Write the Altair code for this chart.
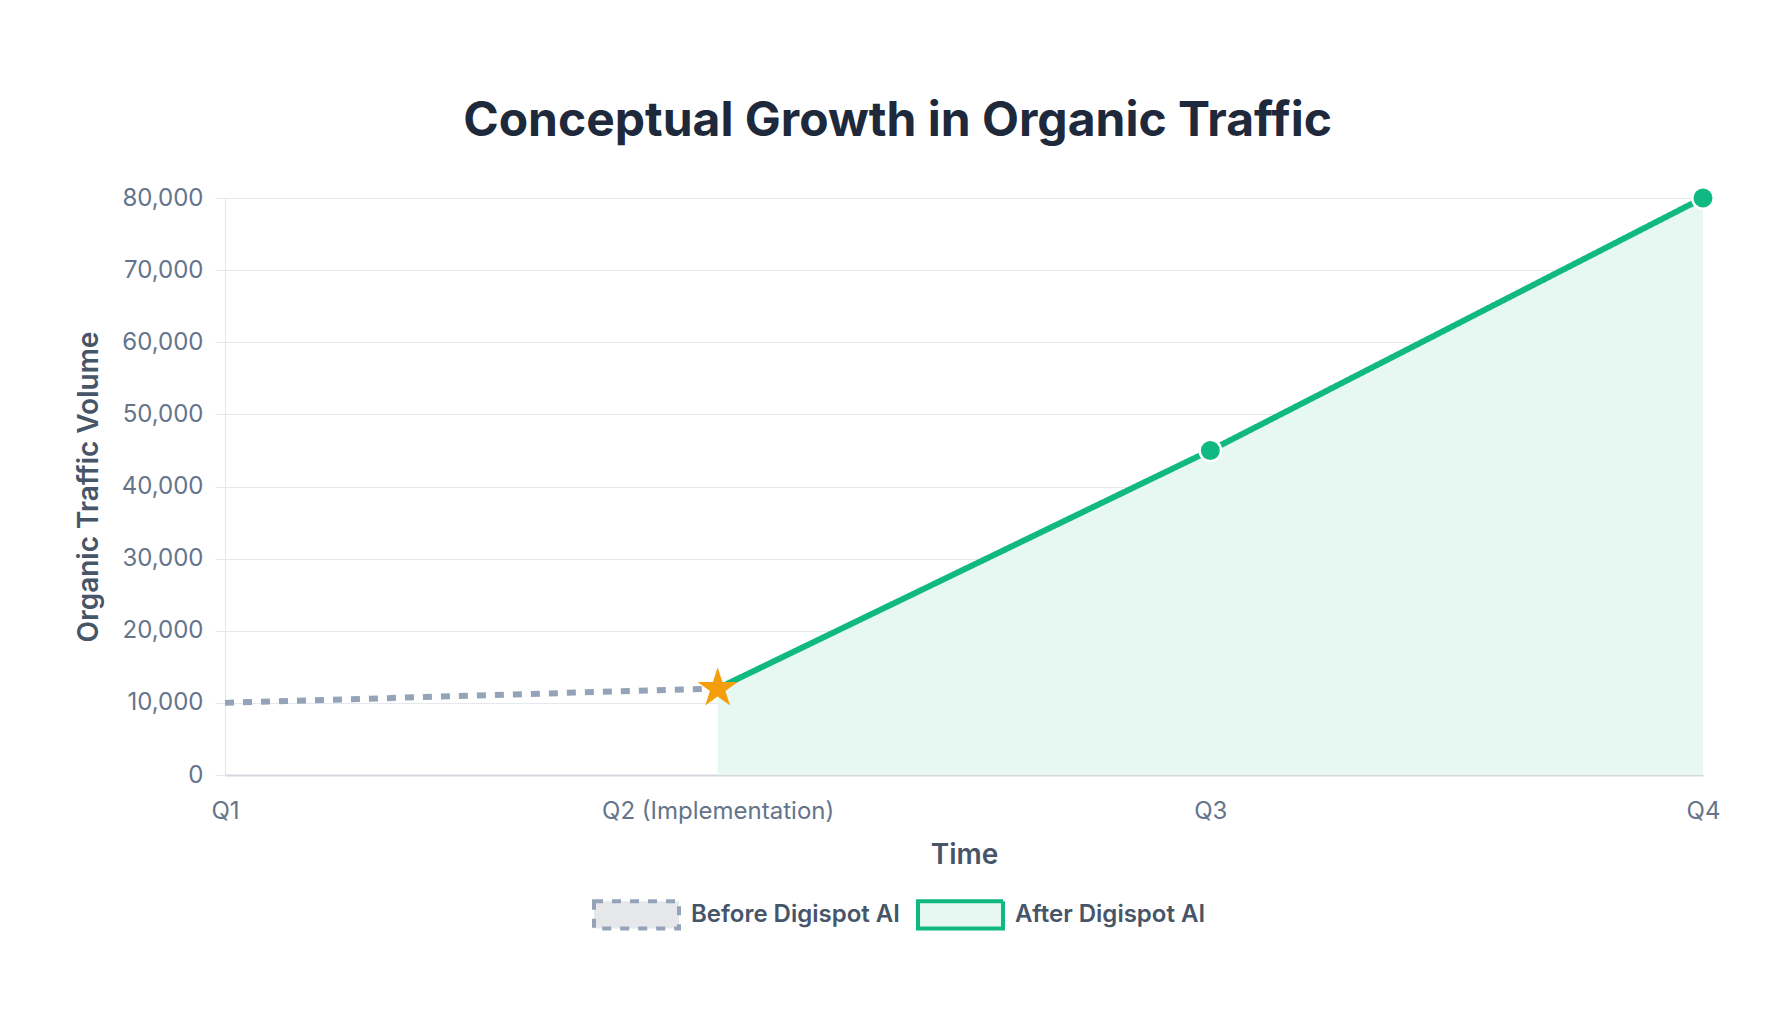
"""Conceptual growth in organic traffic, before and after Digispot AI."""

import pandas as pd
import altair as alt

# Categories and series values
quarters = ["Q1", "Q2 (Implementation)", "Q3", "Q4"]
before_quarters = ["Q1", "Q2 (Implementation)"]
before_values = [10000, 12000]
after_quarters = ["Q2 (Implementation)", "Q3", "Q4"]
after_values = [12000, 45000, 80000]
series_names = ["Before Digispot AI", "After Digispot AI"]
y_ticks = [0, 10000, 20000, 30000, 40000, 50000, 60000, 70000, 80000]

FONT = "Inter"
GREEN = "#10b981"
SLATE = "#94a3b8"
# five-pointed star, in the -1..1 box Vega expects for custom symbols
STAR = ("M0,-1L0.2245,-0.309L0.951,-0.309L0.363,0.118L0.588,0.809L0,0.382"
        "L-0.588,0.809L-0.363,0.118L-0.951,-0.309L-0.2245,-0.309Z")
LEGEND_BOX = "M-1,-0.32H1V0.32H-1Z"

df = pd.concat([
    pd.DataFrame({"series": series_names[0], "quarter": before_quarters,
                  "traffic": before_values}),
    pd.DataFrame({"series": series_names[1], "quarter": after_quarters,
                  "traffic": after_values}),
], ignore_index=True)

x_enc = alt.X(
    "quarter:N", title="Time",
    scale=alt.Scale(type="point", padding=0, domain=quarters),
    axis=alt.Axis(labelAngle=0, ticks=False, grid=False, labelPadding=24,
                  labelLimit=400, domainColor="#d4d8de", domainWidth=2,
                  titlePadding=18),
)
y_enc = alt.Y(
    "traffic:Q", title="Organic Traffic Volume",
    scale=alt.Scale(domain=[0, 80000], nice=False),
    axis=alt.Axis(values=y_ticks, format=",d", tickSize=10, labelPadding=12,
                  tickColor="#e5e9ee", domainColor="#e2e6eb",
                  gridColor="#e5e9ee", titlePadding=18),
)

stroke_scale = alt.Scale(domain=series_names, range=[SLATE, GREEN])
fill_scale = alt.Scale(domain=series_names, range=["#e5e7eb", "#e7f8f2"])
dash_scale = alt.Scale(domain=series_names, range=[[9, 9], [1, 0]])

base = alt.Chart(df)
after = base.transform_filter(alt.datum.series == series_names[1])

area = after.mark_area(opacity=1).encode(
    x=x_enc, y=y_enc,
    fill=alt.Fill("series:N", scale=fill_scale, title=None),
)

line = base.mark_line(strokeWidth=6, strokeCap="butt").encode(
    x=x_enc, y=y_enc,
    stroke=alt.Stroke("series:N", scale=stroke_scale, title=None),
    strokeDash=alt.StrokeDash("series:N", scale=dash_scale, title=None),
    detail="series:N",
)

dots = after.mark_circle(size=460, color=GREEN, stroke="white",
                         strokeWidth=2.5, opacity=1).encode(
    x=x_enc, y=y_enc,
).transform_filter(alt.datum.quarter != quarters[1])

star = after.mark_point(filled=True, size=1800, color="#f59e0b",
                        shape=STAR, opacity=1).encode(
    x=x_enc, y=y_enc,
).transform_filter(alt.datum.quarter == quarters[1])

chart = (
    alt.layer(area, line, dots, star)
    .properties(
        width=1478, height=577,
        autosize=alt.AutoSizeParams(type="none"),
        padding={"left": 217, "top": 190, "right": 81, "bottom": 229},
        background="white",
        title=alt.TitleParams(
            "Conceptual Growth in Organic Traffic", font=FONT, fontSize=48,
            fontWeight=700, color="#1e293b", anchor="middle", frame="bounds",
            offset=36,
        ),
    )
    .configure_view(stroke=None)
    .configure_axis(
        labelFont=FONT, labelFontSize=24, labelColor="#64748b",
        titleFont=FONT, titleFontSize=28, titleFontWeight=600,
        titleColor="#475569",
    )
    .configure_legend(
        orient="none", direction="horizontal", legendX=367, legendY=672,
        symbolType=LEGEND_BOX, symbolSize=7225, symbolStrokeWidth=4,
        symbolOpacity=1, labelFont=FONT, labelFontSize=24,
        labelFontWeight=600, labelColor="#475569", labelLimit=400,
        labelOffset=10, columnPadding=10,
    )
)

chart.save("out.html", embed_options={"renderer": "svg", "actions": False})
